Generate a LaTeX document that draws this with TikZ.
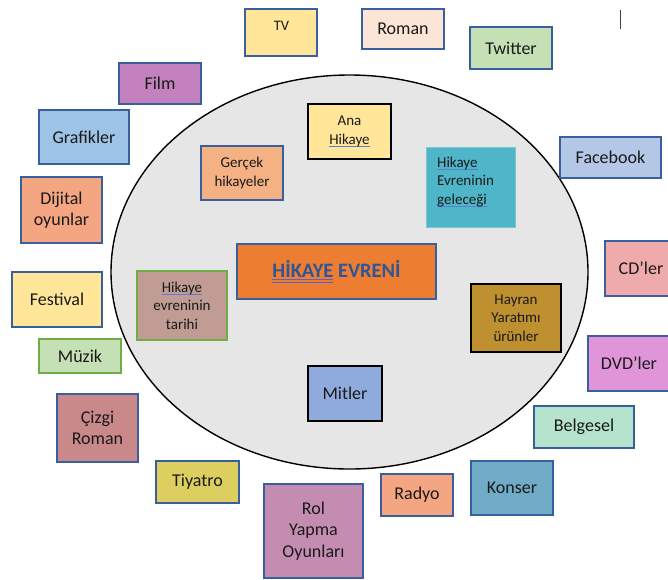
\documentclass[tikz,border=0pt]{standalone}
\usepackage{fontspec}
\setmainfont{Carlito}
\usetikzlibrary{shapes.geometric}
\definecolor{bordc}{HTML}{3A5F9E}
\definecolor{txtc}{HTML}{1A1A1A}
\definecolor{ellc}{HTML}{E6E6E6}
\definecolor{splc}{HTML}{5B7FD0}
\definecolor{dblc}{HTML}{5B5FC7}
\definecolor{mainc}{HTML}{2F5597}
\definecolor{greenb}{HTML}{70AD47}
\definecolor{cyellow}{HTML}{FFE699}
\definecolor{cpeach}{HTML}{FBE5D6}
\definecolor{cgreen}{HTML}{C5E0B4}
\definecolor{cfilm}{HTML}{C382BD}
\definecolor{cgraf}{HTML}{9DC3E6}
\definecolor{corange}{HTML}{F4A582}
\definecolor{cface}{HTML}{B4C7E7}
\definecolor{ccd}{HTML}{EFABAB}
\definecolor{cdvd}{HTML}{DF95D8}
\definecolor{ccizgi}{HTML}{C9888A}
\definecolor{cbelg}{HTML}{B5E3CC}
\definecolor{ctiy}{HTML}{DCCF60}
\definecolor{crol}{HTML}{C58CB2}
\definecolor{ckons}{HTML}{70ABC8}
\definecolor{cgerc}{HTML}{F4B183}
\definecolor{cgelb}{HTML}{7CC6D4}
\definecolor{cgel}{HTML}{4FB5C8}
\definecolor{cevren}{HTML}{ED7D31}
\definecolor{ctarih}{HTML}{C09C94}
\definecolor{cmit}{HTML}{8FAADC}
\definecolor{chay}{HTML}{BF9030}
\newsavebox\myulbox
\newcommand\spl[1]{\sbox\myulbox{#1}\leavevmode\rlap{\textcolor{splc}{\rule[-0.2em]{\wd\myulbox}{0.08em}}}\usebox\myulbox}
\newcommand\dbl[1]{\sbox\myulbox{#1}\leavevmode\rlap{\textcolor{dblc}{\rule[-0.12em]{\wd\myulbox}{0.06em}}}\rlap{\textcolor{dblc}{\rule[-0.26em]{\wd\myulbox}{0.06em}}}\usebox\myulbox}
\tikzset{
  box/.style={draw=bordc, line width=1.2pt, inner sep=1pt, align=center, text=txtc,
    font=\fontsize{18}{21.5}\selectfont},
  small/.style={font=\fontsize{15}{18.5}\selectfont},
  blk/.style={draw=black},
}
\begin{document}
\begin{tikzpicture}[x=1pt,y=-1pt]
\useasboundingbox (0,0) rectangle (668,579);
\clip (0,0) rectangle (668,579);
% universe ellipse
\node[draw=black, line width=1.4pt, fill=ellc, ellipse, inner sep=0pt,
  minimum width=477pt, minimum height=394pt] (univ) at (349.5,272) {};
% cursor mark
\draw[line width=0.9pt, black!75] (620,10) -- (620,29);
% outer boxes
\node[box, fill=cyellow, minimum width=72pt, minimum height=47pt] (tv) at (281,32.5) {};
\node[text=txtc, font=\fontsize{14.5}{17}\selectfont, inner sep=0pt] (tvlabel) at (281.5,25.5) {TV};
\node[box, fill=cpeach, minimum width=82pt, minimum height=40pt] (roman) at (403,29) {Roman};
\node[box, fill=cgreen, minimum width=82pt, minimum height=42pt] (twitter) at (511,48) {Twitter};
\node[box, fill=cfilm, minimum width=82pt, minimum height=41pt] (film) at (160,83.5) {Film};
\node[box, fill=cgraf, minimum width=90pt, minimum height=54pt] (grafik) at (84,137) {Grafikler};
\node[box, fill=corange, minimum width=81pt, minimum height=66pt] (dijital) at (61.5,210) {Dijital\\oyunlar};
\node[box, fill=cface, minimum width=101pt, minimum height=41pt] (facebook) at (610.5,157.5) {Facebook};
\node[box, fill=cyellow, minimum width=90pt, minimum height=55pt] (festival) at (57,299.5) {Festival};
\node[box, draw=greenb, fill=cgreen, minimum width=82pt, minimum height=34pt] (muzik) at (80,356) {Müzik};
\node[box, fill=ccd, minimum width=72pt, minimum height=55pt] (cd) at (641,268.5) {CD’ler};
\node[box, fill=cdvd, minimum width=82pt, minimum height=55pt] (dvd) at (629,363.5) {DVD’ler};
\node[box, fill=ccizgi, minimum width=81pt, minimum height=68pt] (cizgi) at (97.5,428) {Çizgi\\Roman};
\node[box, fill=cbelg, minimum width=100pt, minimum height=42pt] (belgesel) at (584,427) {Belgesel};
\node[box, fill=ctiy, minimum width=83pt, minimum height=42pt] (tiyatro) at (197.5,482) {Tiyatro};
\node[box, fill=crol, minimum width=99pt, minimum height=94pt] (rol) at (313.5,531) {Rol\\Yapma\\Oyunları};
\node[box, fill=corange, minimum width=72pt, minimum height=42pt] (radyo) at (417,495) {Radyo};
\node[box, fill=ckons, minimum width=82pt, minimum height=54pt] (konser) at (512,488) {Konser};
% inner boxes
\node[box, small, fill=cgerc, minimum width=82pt, minimum height=54pt] (gercek) at (242,173) {Gerçek\\hikayeler};
\node[box, small, blk, fill=cyellow, minimum width=83pt, minimum height=55pt] (ana) at (349.5,131.5) {Ana\\\spl{Hikaye}};
\node[box, small, draw=cgelb, line width=0.6pt, fill=cgel, minimum width=89pt, minimum height=80pt] (gelecek) at (470.5,187) {};
\node[small, text=txtc, align=left, anchor=west, inner sep=0pt] (gelecektext) at (437,182) {\spl{Hikaye}\\Evreninin\\\spl{geleceği}};
\node[box, fill=cevren, text=mainc, font=\fontsize{20.5}{24}\selectfont\bfseries, minimum width=199pt, minimum height=55pt] (evren) at (336.5,271.5) {\dbl{HİKAYE} EVRENİ};
\node[box, small, draw=greenb, fill=ctarih, minimum width=90pt, minimum height=69pt] (tarih) at (182,305.5) {\spl{Hikaye}\\evreninin\\tarihi};
\node[box, blk, fill=cmit, minimum width=74pt, minimum height=55pt] (mitler) at (345,393.5) {Mitler};
\node[box, small, blk, fill=chay, minimum width=90pt, minimum height=68pt] (hayran) at (516,318) {Hayran\\Yaratımı\\ürünler};
\end{tikzpicture}
\end{document}
